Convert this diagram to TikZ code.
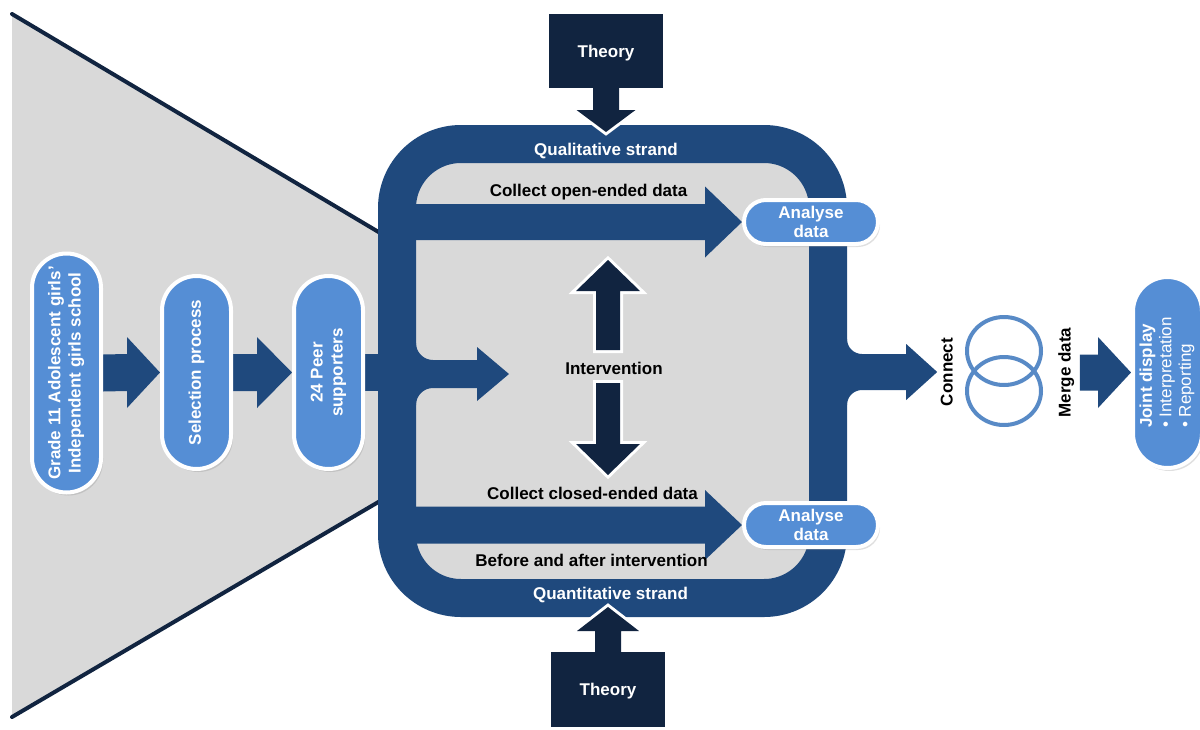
\documentclass[tikz,border=0pt]{standalone}
\usepackage{fontspec}
\usepackage{graphicx}
\setmainfont{Liberation Sans}
\usetikzlibrary{calc,shadows,shapes.geometric}

\definecolor{band}{RGB}{31,73,125}
\definecolor{navy}{RGB}{17,36,64}
\definecolor{pillblue}{RGB}{85,142,213}
\definecolor{panel}{RGB}{217,217,217}
\definecolor{ringblue}{RGB}{88,138,198}

\pgfdeclarelayer{back}
\pgfdeclarelayer{halo}
\pgfsetlayers{back,halo,main}

% horizontal block arrow: start, tip, shaft half-width, head half-width, head length
\newcommand\fatarrow[5]{%
  \fill[band] ($(#1)+(0,-#3)$) -- ($(#2)+(-#5,-#3)$) -- ($(#2)+(-#5,-#4)$) -- (#2)
    -- ($(#2)+(-#5,#4)$) -- ($(#2)+(-#5,#3)$) -- ($(#1)+(0,#3)$) -- cycle;}

% block arrow leaving the frame band with rounded fillets:
% start on band centre line, tip, shaft half, head half, head length, fillet radius
\newcommand\forkarrow[6]{%
  \fill[band] ($(#1)+(0,{-#3-#6})$) -- ($(#1)+(19,{-#3-#6})$)
    .. controls ($(#1)+(19,{-#3-0.448*#6})$) and ($(#1)+({19+0.448*#6},-#3)$) .. ($(#1)+({19+#6},-#3)$)
    -- ($(#2)+(-#5,-#3)$) -- ($(#2)+(-#5,-#4)$) -- (#2) -- ($(#2)+(-#5,#4)$) -- ($(#2)+(-#5,#3)$)
    -- ($(#1)+({19+#6},#3)$) .. controls ($(#1)+({19+0.448*#6},#3)$) and ($(#1)+(19,{#3+0.448*#6})$) .. ($(#1)+(19,{#3+#6})$)
    -- ($(#1)+(0,{#3+#6})$) -- cycle;}

% vertical arrow: style, base, tip, shaft half, head half, offset of head base from tip
\newcommand\stemarrow[6]{%
  \path[#1] ($(#2)+(-#4,0)$) -- ($(#3)+(-#4,#6)$) -- ($(#3)+(-#5,#6)$) -- (#3)
    -- ($(#3)+(#5,#6)$) -- ($(#3)+(#4,#6)$) -- ($(#2)+(#4,0)$) -- cycle;}

\begin{document}
\begin{tikzpicture}[x=1pt,y=-1pt,
  lbl/.style={font=\bfseries\fontsize{17}{20}\selectfont, inner sep=0pt,
    text height=12.2pt, text depth=0pt},
  pill/.style={fill=pillblue, draw=white, line width=4pt, inner sep=0pt,
    text=white, font=\bfseries\fontsize{17}{20}\selectfont,
    drop shadow={shadow xshift=2pt, shadow yshift=-3pt, opacity=.25}},
  vpill/.style={pill, minimum width=69pt, rounded corners=34.5pt},
  hpill/.style={pill, minimum width=134pt, minimum height=44pt, rounded corners=22pt,
    align=center, font=\bfseries\fontsize{17}{19.5}\selectfont},
  theorybox/.style={lbl, fill=navy, text=white, minimum width=114pt},
  ringnode/.style={ellipse, draw=ringblue, line width=4pt, minimum width=74pt,
    minimum height=68pt, inner sep=0pt},
  halostroke/.style={draw=white, line width=6pt, line join=miter},
]
\useasboundingbox (0,0) rectangle (1200,729);

\begin{pgfonlayer}{back}
  % funnel behind the study frame
  \fill[panel] (12,14) -- (392,240) -- (392,494) -- (12,717) -- cycle;
  \draw[navy, line width=4pt, line cap=round] (12,14) -- (392,240);
  \draw[navy, line width=4pt, line cap=round] (12,717) -- (392,494);
  % study frame
  \node[draw=band, fill=panel, line width=38pt, rounded corners=64pt,
    minimum width=431pt, minimum height=454pt, inner sep=0pt, outer sep=0pt]
    (frame) at (612.5,371) {};
\end{pgfonlayer}

% participants
\node[vpill, minimum height=239pt] (p1) at (66.5,373)
  {\rotatebox{90}{\begin{tabular}{@{}c@{}}Grade 11 Adolescent girls’\\Independent girls school\end{tabular}}};
\node[vpill, minimum height=193pt] (p2) at (196.5,372.5)
  {\rotatebox{90}{Selection process}};
\node[vpill, minimum height=193pt] (p3) at (328.5,372.5)
  {\rotatebox{90}{\begin{tabular}{@{}c@{}}24 Peer\\supporters\end{tabular}}};

% analysis steps
\node[hpill] (an1) at (811,222) {Analyse\\data};
\node[hpill] (an2) at (811,525) {Analyse\\data};

% strand labels
\node[lbl, text=white] (qual) at (606,149.5) {Qualitative strand};
\node[lbl] (open) at (588.5,190.5) {Collect open-ended data};
\node[lbl] (closed) at (592.5,493) {Collect closed-ended data};
\node[lbl] (before) at (591.5,560) {Before and after intervention};
\node[lbl, text=white] (quant) at (610.5,593.5) {Quantitative strand};
\node[lbl] (intv) at (614,368.5) {Intervention};

% theory boxes
\node[theorybox, minimum height=74pt] (th1) at (606,51) {Theory};
\node[theorybox, minimum height=75pt] (th2) at (608,689.5) {Theory};

% integration
\node[lbl, rotate=90] (conn) at (946.5,372) {Connect};
\node[ringnode] (c1) at (1004,351) {};
\node[ringnode] (c2) at (1004,391) {};
\node[lbl, rotate=90] (merge) at (1064.5,372.5) {Merge data};
\node[vpill, minimum height=191pt, font=\fontsize{17}{19.5}\selectfont] (joint) at (1167.5,372.5)
  {\rotatebox{90}{\begin{tabular}{@{}l@{}}\textbf{Joint display}\\• Interpretation\\• Reporting\end{tabular}}};

% anchor points for the arrows
\coordinate (qs) at (frame.west |- an1.west);
\coordinate (ns) at (frame.west |- an2.west);
\coordinate (mtip) at (509,374);
\coordinate (ms) at (frame.west |- mtip);
\coordinate (ctip) at ($(conn.north)+(-3,0)$);
\coordinate (rs) at (frame.east |- ctip);
\coordinate (fs) at (frame.west |- p3.east);
\coordinate (mgs) at ($(merge.south)+(9,0)$);
\coordinate (t1tip) at (606,132);
\coordinate (t2tip) at (608,607);
\coordinate (iub) at (608,350);
\coordinate (iut) at (608,260);
\coordinate (idb) at (608,383);
\coordinate (idt) at (608,475);

\begin{pgfonlayer}{back}
  \fatarrow{p1.east}{p2.west}{18.5}{35.5}{33}
  \fatarrow{p2.east}{p3.west}{18.5}{35.5}{35}
  \fill[band] ($(p3.east)+(0,-18.5)$) rectangle ($(fs)+(0,18.5)$);
  \fatarrow{qs}{an1.west}{18}{35.5}{37}
  \fatarrow{ns}{an2.west}{18.5}{35}{37}
  \forkarrow{ms}{mtip}{14}{27}{32}{17}
  \forkarrow{rs}{ctip}{18}{28}{31}{15}
  \fatarrow{mgs}{joint.west}{18}{35.5}{33}
\end{pgfonlayer}

% white halos round the dark arrows and theory boxes
\begin{pgfonlayer}{halo}
  \draw[halostroke] (th1.south west) rectangle (th1.north east);
  \draw[halostroke] (th2.south west) rectangle (th2.north east);
  \stemarrow{halostroke}{th1.south}{t1tip}{13}{29.5}{-22}
  \stemarrow{halostroke}{th2.north}{t2tip}{13}{31}{24}
  \stemarrow{halostroke}{iub}{iut}{12}{32}{31}
  \stemarrow{halostroke}{idb}{idt}{12}{32}{-31}
\end{pgfonlayer}

\stemarrow{fill=navy}{th1.south}{t1tip}{13}{29.5}{-22}
\stemarrow{fill=navy}{th2.north}{t2tip}{13}{31}{24}
\stemarrow{fill=navy}{iub}{iut}{12}{32}{31}
\stemarrow{fill=navy}{idb}{idt}{12}{32}{-31}

\end{tikzpicture}
\end{document}
